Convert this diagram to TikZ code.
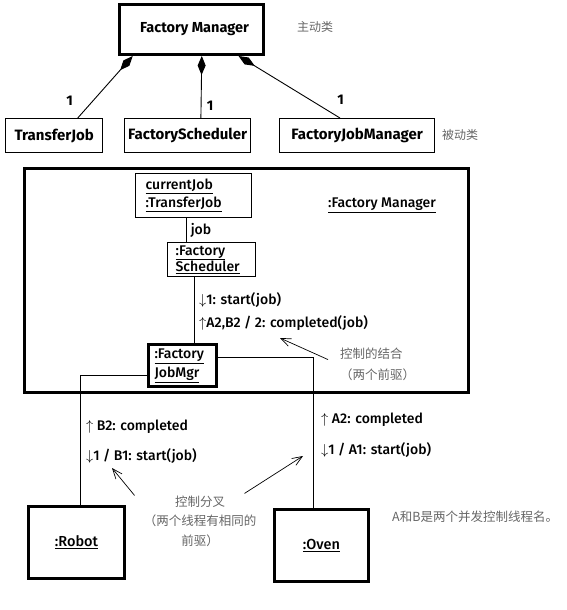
\documentclass[tikz,border=0pt]{standalone}
\usepackage{fontspec}
\setmainfont{Fira Sans}
\newfontface\medium{Fira Sans Medium}
\newfontfamily\cjk{Noto Sans CJK SC}
\usetikzlibrary{arrows.meta,calc}
\tikzset{
  font={\medium\fontsize{14pt}{16}\selectfont},
  cls/.style={draw,line width=1.3pt,inner sep=0pt,anchor=north west,
    font={\fontsize{15pt}{17}\selectfont\bfseries}},
  obj/.style={draw,line width=1.3pt,anchor=north west,align=left,inner ysep=0pt},
  heavy/.style={line width=3pt},
  comp/.style={line width=0.9pt,-{Diamond[length=19pt,width=8pt]}},
  ptr/.style={line width=0.7pt,-{Straight Barb[length=10pt,width=8pt]}},
  note/.style={text=black!60,inner sep=0pt,font={\cjk\fontsize{12pt}{20}\selectfont}},
  msg/.style={anchor=west,inner sep=0pt},
  mult/.style={font={\fontsize{14pt}{15}\selectfont\bfseries}}}

\begin{document}
\begin{tikzpicture}[x=1pt,y=-1pt]
\useasboundingbox (0,0) rectangle (567,610);
% classes
\node[cls,heavy,minimum width=144pt,minimum height=50pt,
  font={\fontsize{14.5pt}{16}\selectfont\bfseries}] (fm) at (118,3) {\hspace{6pt}Factory Manager};
\node[cls,minimum width=97pt,minimum height=34pt] (tj) at (5,118) {TransferJob};
\node[cls,minimum width=126pt,minimum height=34pt] (fs) at (124,118) {FactoryScheduler};
\node[cls,minimum width=155pt,minimum height=34pt] (fjm) at (279,118) {FactoryJobManager};
\node[note,anchor=west] (active) at (297,27) {主动类};
\node[note,anchor=west] (passive) at (442,135) {被动类};
\draw[comp] ($(tj.north west)!0.74!(tj.north east)$)
  -- node[mult,pos=0.27,left=16pt] {1} ($(fm.south west)!0.10!(fm.south east)$);
\draw[comp] ($(fs.north west)!0.604!(fs.north east)$)
  -- node[mult,pos=0.2,right=2pt] {1} ($(fm.south west)!0.57!(fm.south east)$);
\draw[comp] ($(fjm.north west)!0.39!(fjm.north east)$)
  -- node[mult,pos=0.3,right=24pt] {1} ($(fm.south west)!0.82!(fm.south east)$);
% composite object
\node[draw,heavy,anchor=north west,inner sep=0pt,minimum width=444pt,
  minimum height=224pt] (sys) at (23,167) {};
\node[msg] (sysname) at (328,205) {\underline{:Factory Manager}};
\node[obj,text width=96pt,inner xsep=10pt,minimum height=44pt,
  font={\medium\fontsize{14pt}{18}\selectfont}] (cj) at (135,173)
  {\underline{currentJob}\\\underline{:TransferJob}};
\node[obj,text width=72pt,inner xsep=8pt,minimum height=34pt,
  font={\medium\fontsize{14pt}{15}\selectfont}] (sch) at (167,242)
  {\underline{:Factory}\\\underline{Scheduler}};
\node[obj,heavy,text width=56pt,inner xsep=6pt,minimum height=42pt,
  font={\medium\fontsize{14pt}{19}\selectfont}] (jm) at (147,343)
  {\underline{:Factory}\\\underline{JobMgr}};
\coordinate (jobx) at (186,0);
\coordinate (schx) at (194,0);
\draw[line width=0.9pt] (cj.south -| jobx) -- node[right=1pt] {job} (sch.north -| jobx);
\draw[line width=0.9pt] (sch.south -| schx) -- (jm.north -| schx);
\node[msg] (start) at (199,300) {$\downarrow$1: start(job)};
\node[msg] (done) at (199,323) {$\uparrow$A2,B2 / 2: completed(job)};
% workers
\node[cls,heavy,minimum width=96pt,minimum height=72pt,
  font={\medium\fontsize{14.5pt}{15}\selectfont}] (robot) at (27,505) {\underline{:Robot}};
\node[cls,heavy,minimum width=94pt,minimum height=72pt,
  font={\medium\fontsize{14.5pt}{15}\selectfont}] (oven) at (273,508) {\underline{:Oven}};
\coordinate (robotup) at (80,375);
\coordinate (ovenup) at (313,357);
\draw[line width=0.8pt] (jm.west |- robotup) -- (robotup) -- (robotup |- robot.north);
\draw[line width=0.8pt] (jm.east |- ovenup) -- (ovenup) -- (ovenup |- oven.north);
\node[msg] (b2) at (86,427) {$\uparrow$ B2: completed};
\node[msg] (b1) at (86,456) {$\downarrow$1 / B1: start(job)};
\node[msg] (a2) at (321,420) {$\uparrow$ A2: completed};
\node[msg] (a1) at (321,450) {$\downarrow$1 / A1: start(job)};
% notes
\node[note,anchor=north west,align=left,font={\cjk\fontsize{12.5pt}{21}\selectfont}]
  (join) at (340,348) {控制的结合\\（两个前驱）};
\coordinate (jointip) at (280,338);
\draw[ptr] ($(join.west)+(-12,-5)$) -- (jointip);
\node[note,align=center,font={\cjk\fontsize{12.5pt}{19.5}\selectfont}]
  (fork) at (200,521) {控制分叉\\（两个线程有相同的\\前驱）};
\coordinate (robottip) at (112,468);
\coordinate (oventip) at (303,456);
\draw[ptr] ($(fork.north west)+(-9,0)$) -- (robottip);
\draw[ptr] ($(fork.north east)+(-12,-2)$) -- (oventip);
\node[note,anchor=west,font={\cjk\fontsize{12.5pt}{15}\selectfont}]
  (threads) at (392,517) {A和B是两个并发控制线程名。};
\end{tikzpicture}
\end{document}
